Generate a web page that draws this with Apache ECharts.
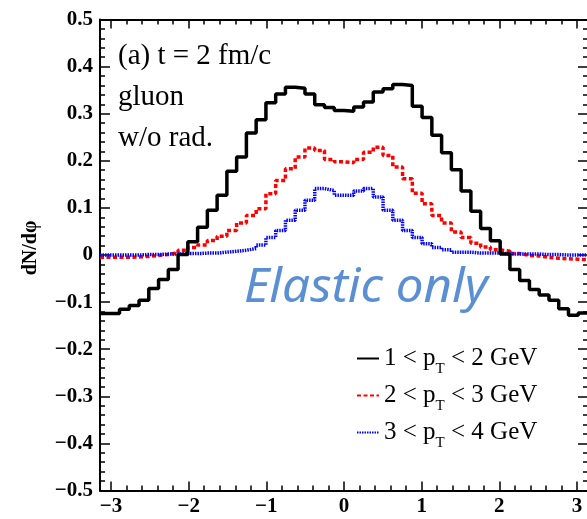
<!DOCTYPE html>
<html>
<head>
<meta charset="utf-8">
<title>dN/dphi, gluon, t = 2 fm/c</title>
<script src="https://cdn.jsdelivr.net/npm/echarts@6/dist/echarts.min.js"></script>
<style>
  html, body { margin: 0; padding: 0; background: #fff; }
  #chart { width: 587px; height: 519px; }
</style>
</head>
<body>
<div id="chart"></div>
<script>
// Azimuthal histogram: 50 bins spanning [-pi, pi]
const PHI_MIN = -Math.PI;
const PHI_MAX = Math.PI;
const N_BINS = 50;

// Bin contents, one value per bin (left to right)
const pt12 = [
  -0.124, -0.124, -0.115, -0.107, -0.096, -0.071, -0.052, -0.031, 0.001, 0.028,
   0.059,  0.095,  0.127,  0.178,  0.208,  0.259,  0.287,  0.323, 0.342, 0.356,
   0.354,  0.342,  0.319,  0.313,  0.307,  0.305,  0.314,  0.325, 0.346, 0.353,
   0.362,  0.360,  0.316,  0.292,  0.254,  0.217,  0.181,  0.136, 0.093, 0.056,
   0.030,  0.002, -0.031, -0.054, -0.073, -0.085, -0.096, -0.114, -0.128, -0.123
];
const pt23 = [
  -0.005, -0.005, -0.005, -0.004, -0.003, -0.001, 0.001, 0.005, 0.010, 0.016,
   0.021,  0.031,  0.040,  0.052,  0.068,  0.084, 0.098, 0.130, 0.158, 0.183,
   0.208,  0.227,  0.222,  0.203,  0.198,  0.196, 0.203, 0.218, 0.229, 0.211,
   0.187,  0.162,  0.131,  0.109,  0.084,  0.068, 0.049, 0.037, 0.025, 0.017,
   0.011,  0.008,  0.003, -0.001, -0.002, -0.005, -0.007, -0.008, -0.009, -0.010
];
const pt34 = [
  0.000, 0.000, 0.000, 0.000, 0.001, 0.001, 0.002, 0.002, 0.003, 0.003,
  0.004, 0.004, 0.006, 0.008, 0.010, 0.014, 0.021, 0.037, 0.052, 0.074,
  0.095, 0.116, 0.141, 0.137, 0.127, 0.127, 0.136, 0.141, 0.123, 0.095,
  0.074, 0.052, 0.037, 0.024, 0.016, 0.011, 0.006, 0.006, 0.004, 0.004,
  0.004, 0.002, 0.002, 0.002, 0.002, 0.001, 0.001, 0.000, 0.000, 0.000
];

const seriesNames = ['1 < pT < 2 GeV', '2 < pT < 3 GeV', '3 < pT < 4 GeV'];

// Axis ticks
const xMajorTicks = [-3, -2, -1, 0, 1, 2, 3];
const xMinorTicks = [
  -2.8, -2.6, -2.4, -2.2, -1.8, -1.6, -1.4, -1.2, -0.8, -0.6, -0.4, -0.2,
   0.2, 0.4, 0.6, 0.8, 1.2, 1.4, 1.6, 1.8, 2.2, 2.4, 2.6, 2.8
];
const yMin = -0.5, yMax = 0.5, yStep = 0.1;

const annotation = ['(a) t = 2 fm/c', 'gluon', 'w/o rad.'];

// Turn bin contents into step-line points at the bin edges
function histPoints(values) {
  const w = (PHI_MAX - PHI_MIN) / N_BINS;
  const pts = values.map((v, i) => [PHI_MIN + i * w, v]);
  pts.push([PHI_MAX, values[values.length - 1]]);
  return pts;
}

const SERIF = '"Liberation Serif", "Times New Roman", serif';
const minus = s => String(s).replace('-', '\u2212');

const chart = echarts.init(document.getElementById('chart'), null, { renderer: 'canvas' });

const xBase = {
  type: 'value', min: PHI_MIN, max: PHI_MAX, gridIndex: 0,
  splitLine: { show: false },
  axisLine: { onZero: false, lineStyle: { color: '#000', width: 2 } }
};
const yBase = {
  type: 'value', min: yMin, max: yMax, interval: yStep, gridIndex: 0,
  splitLine: { show: false },
  axisLine: { onZero: false, lineStyle: { color: '#000', width: 2 } },
  axisTick: { inside: true, length: 10, lineStyle: { color: '#000', width: 1.5 } },
  minorTick: { show: true, splitNumber: 5, length: 5, lineStyle: { color: '#000', width: 1.5 } },
  minorSplitLine: { show: false }
};

const option = {
  animation: false,
  backgroundColor: '#fff',
  grid: { left: 100, right: -1, top: 19.5, bottom: 28.5, outerBoundsMode: 'none' },
  xAxis: [
    Object.assign({}, xBase, {
      position: 'bottom',
      axisTick: { inside: true, length: 9, customValues: xMajorTicks, lineStyle: { color: '#000', width: 1.5 } },
      axisLabel: {
        customValues: xMajorTicks, margin: 6, color: '#000',
        fontFamily: SERIF, fontWeight: 'bold', fontSize: 21,
        formatter: v => minus(Math.round(v))
      }
    }),
    Object.assign({}, xBase, {
      position: 'bottom', axisLine: { show: false, onZero: false },
      axisTick: { inside: true, length: 5, customValues: xMinorTicks, lineStyle: { color: '#000', width: 1.5 } },
      axisLabel: { show: false }
    }),
    Object.assign({}, xBase, {
      position: 'top',
      axisTick: { inside: true, length: 9, customValues: xMajorTicks, lineStyle: { color: '#000', width: 1.5 } },
      axisLabel: { show: false }
    }),
    Object.assign({}, xBase, {
      position: 'top', axisLine: { show: false, onZero: false },
      axisTick: { inside: true, length: 5, customValues: xMinorTicks, lineStyle: { color: '#000', width: 1.5 } },
      axisLabel: { show: false }
    })
  ],
  yAxis: [
    Object.assign({}, yBase, {
      position: 'left',
      axisLabel: {
        margin: 7, color: '#000',
        fontFamily: SERIF, fontWeight: 'bold', fontSize: 21,
        formatter: v => Math.abs(v) < 1e-9 ? '0' : minus(v.toFixed(1))
      }
    }),
    Object.assign({}, yBase, { position: 'right', axisLabel: { show: false } })
  ],
  legend: {
    orient: 'vertical',
    left: 356, top: 346, padding: 0,
    itemWidth: 22, itemHeight: 14, itemGap: 6,
    data: seriesNames,
    itemStyle: { opacity: 0 },
    formatter: name => name.replace('pT', 'p{sub|T}'),
    textStyle: {
      color: '#000', fontFamily: SERIF, fontSize: 25,
      rich: { sub: { fontFamily: SERIF, fontSize: 15, color: '#000', padding: [22, 0, 0, 0] } }
    }
  },
  series: [
    {
      name: seriesNames[0], type: 'line', step: 'end', symbol: 'none',
      xAxisIndex: 0, yAxisIndex: 0, data: histPoints(pt12),
      lineStyle: { color: '#000', width: 3.5 }, itemStyle: { color: '#000' }, z: 3
    },
    {
      name: seriesNames[1], type: 'line', step: 'end', symbol: 'none',
      xAxisIndex: 0, yAxisIndex: 0, data: histPoints(pt23),
      lineStyle: { color: '#ff0000', width: 3.5, type: [4, 2.5] }, itemStyle: { color: '#ff0000' }, z: 2
    },
    {
      name: seriesNames[2], type: 'line', step: 'end', symbol: 'none',
      xAxisIndex: 0, yAxisIndex: 0, data: histPoints(pt34),
      lineStyle: { color: '#0000ff', width: 3.5, type: [1.5, 1] }, itemStyle: { color: '#0000ff' }, z: 2
    }
  ],
  graphic: [
    { type: 'text', left: 118, top: 36, z: 10,
      style: { text: annotation.join('\n'), fill: '#000', font: '29px ' + SERIF, lineHeight: 41 } },
    { type: 'text', x: 244, y: 265, scaleX: 1.05, z: 10,
      style: { text: 'Elastic only', fill: '#5b8fd4', font: 'italic 47px "Noto Sans", sans-serif' } },
    { type: 'text', x: 31, y: 248, rotation: Math.PI / 2, z: 10,
      style: { text: 'dN/d\u03c6', fill: '#000', font: 'bold 20px ' + SERIF, align: 'center', verticalAlign: 'middle' } }
  ]
};

chart.setOption(option);
</script>
</body>
</html>
